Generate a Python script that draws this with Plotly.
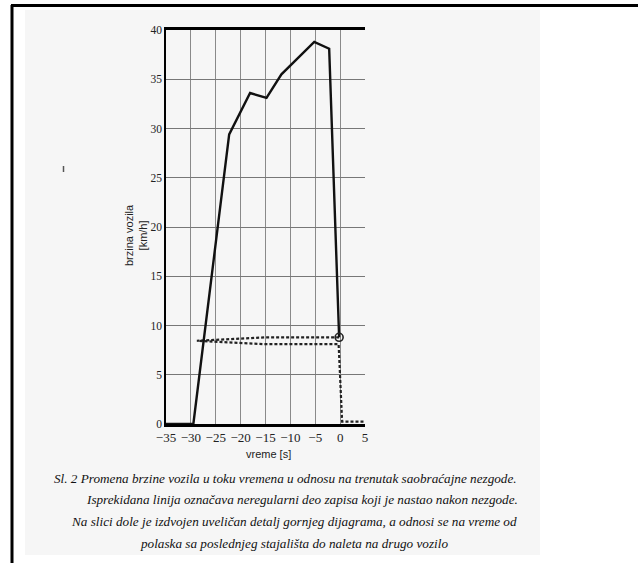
import plotly.graph_objects as go

W, H = 638, 563
L, R, T, B = 166, 365, 30, 424  # plot area in pixels

# data (time in s, speed in km/h)
time_solid = [-35, -29.5, -22.3, -18.1, -14.8, -11.8, -5.2, -2.2, -0.2]
speed_solid = [0, 0, 29.4, 33.6, 33.1, 35.5, 38.8, 38.1, 8.8]
time_dash = [-0.2, -15, -28.8, -15, -0.3, 0.4, 5.0]
speed_dash = [8.8, 8.8, 8.45, 8.1, 8.1, 0.25, 0.25]
crash_time = [-0.2]
crash_speed = [8.8]
x_ticks = [-35, -30, -25, -20, -15, -10, -5, 0, 5]
x_ticktext = ["\u221235", "\u221230", "\u221225", "\u221220", "\u221215", "\u221210", "\u22125", "0", "5"]
y_ticks = [0, 5, 10, 15, 20, 25, 30, 35, 40]
caption = [
    "Sl. 2 Promena brzine vozila u toku vremena u odnosu na trenutak saobraćajne nezgode.",
    "Isprekidana linija označava neregularni deo zapisa koji je nastao nakon nezgode.",
    "Na slici dole je izdvojen uveličan detalj gornjeg dijagrama, a odnosi se na vreme od",
    "polaska sa poslednjeg stajališta do naleta na drugo vozilo",
]
caption_pos = [(285, 478), (302, 500), (294, 521), (294, 543)]


def px(x):
    return (x - L) / (R - L)


def py(y):
    return (B - y) / (B - T)


fig = go.Figure()
fig.add_trace(go.Scatter(x=time_dash, y=speed_dash, mode="lines",
                         line=dict(color="#222", width=2.2, dash="3px,2px"),
                         showlegend=False, hoverinfo="skip"))
fig.add_trace(go.Scatter(x=time_solid, y=speed_solid, mode="lines",
                         line=dict(color="#111", width=2.4),
                         showlegend=False))
fig.add_trace(go.Scatter(x=crash_time, y=crash_speed, mode="markers",
                         marker=dict(symbol="circle-open", size=8, color="#222",
                                     line=dict(width=1.6)),
                         showlegend=False))

shapes = [
    # scanned page background
    dict(type="rect", xref="paper", yref="paper", x0=px(25), x1=px(540), y0=py(555), y1=py(10),
         fillcolor="#f6f6f6", line=dict(width=0), layer="below"),
    # document frame
    dict(type="line", xref="paper", yref="paper", x0=px(11), x1=px(640), y0=py(5.5), y1=py(5.5),
         line=dict(color="black", width=3)),
    dict(type="line", xref="paper", yref="paper", x0=px(12), x1=px(12), y0=py(5), y1=py(570),
         line=dict(color="black", width=3)),
    # small scan mark
    dict(type="line", xref="paper", yref="paper", x0=px(63.5), x1=px(63.5), y0=py(166), y1=py(172),
         line=dict(color="#555", width=1.5)),
]

annotations = [
    dict(x=px(136), y=py(235), xref="paper", yref="paper", text="brzina vozila<br>[km/h]",
         textangle=-90, showarrow=False, font=dict(family="Liberation Sans, Arial", size=11, color="#222"),
         xanchor="center", yanchor="middle"),
    dict(x=px(268), y=py(454), xref="paper", yref="paper", text="vreme [s]",
         showarrow=False, font=dict(family="Liberation Sans, Arial", size=11, color="#222"),
         xanchor="center", yanchor="middle"),
]
for txt, (cx, cy) in zip(caption, caption_pos):
    annotations.append(dict(x=px(cx), y=py(cy), xref="paper", yref="paper",
                            text="<i>" + txt + "</i>", showarrow=False,
                            font=dict(family="Liberation Serif, Times New Roman", size=13.2, color="#111"),
                            xanchor="center", yanchor="middle"))

fig.update_layout(
    width=W, height=H,
    margin=dict(l=L, r=W - R, t=T, b=H - B, pad=0),
    paper_bgcolor="white",
    plot_bgcolor="rgba(0,0,0,0)",
    showlegend=False,
    shapes=shapes,
    annotations=annotations,
    xaxis=dict(range=[-35, 5], tickvals=x_ticks, ticktext=x_ticktext,
               showgrid=True, gridcolor="#8a8a8a", gridwidth=1,
               showline=True, linecolor="black", linewidth=2.5, mirror=True,
               ticks="", zeroline=False,
               tickfont=dict(family="Liberation Serif, Times New Roman", size=13, color="#222")),
    yaxis=dict(range=[0, 40], tickvals=y_ticks,
               showgrid=True, gridcolor="#777", gridwidth=1,
               showline=True, linecolor="black", linewidth=1.5,
               ticks="", zeroline=False, ticklabelstandoff=0,
               tickfont=dict(family="Liberation Serif, Times New Roman", size=11.5, color="#222")),
)

fig.write_html("out.html")
